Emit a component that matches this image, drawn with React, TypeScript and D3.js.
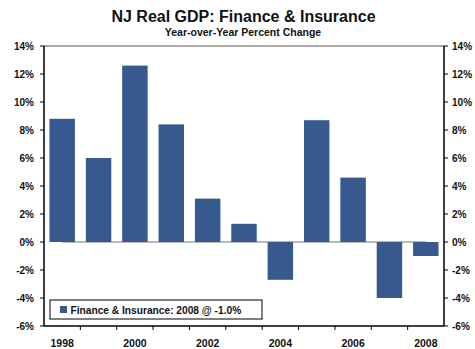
import React from "react";
import * as d3 from "d3";

const years = ["1998","1999","2000","2001","2002","2003","2004","2005","2006","2007","2008"];
const values = [8.8, 6.0, 12.6, 8.4, 3.1, 1.3, -2.7, 8.7, 4.6, -4.0, -1.0];
const yTicks = [14, 12, 10, 8, 6, 4, 2, 0, -2, -4, -6];
const xLabels = ["1998", "2000", "2002", "2004", "2006", "2008"];
const title = "NJ Real GDP: Finance & Insurance";
const subtitle = "Year-over-Year Percent Change";
const legendLabel = "Finance & Insurance: 2008 @ -1.0%";

export default function App() {
  const W = 475, H = 349;
  const left = 44, right = 444, top = 46, bottom = 326;
  const x = d3.scaleBand().domain(years).range([left, right]).paddingInner(0.3).paddingOuter(0.15);
  const xb = d3.scaleBand().domain(years).range([left, right]);
  const y = d3.scaleLinear().domain([-6, 14]).range([bottom, top]);
  const color = "#365a8d";
  const font = "'Liberation Sans', Arial, sans-serif";
  const fx = (yr: string) => (xb(yr) as number) + xb.bandwidth() / 2;
  return (
    <svg width={W} height={H} style={{ position: "absolute", left: 0, top: 0, background: "#fff" }} fontFamily={font}>
      <text x={243.5} y={22} textAnchor="middle" fontSize={16} fontWeight="bold" fill="#111">{title}</text>
      <text x={243} y={35.5} textAnchor="middle" fontSize={10.5} fontWeight="bold" fill="#111">{subtitle}</text>
      {/* top border */}
      <line x1={left} x2={right} y1={y(14)} y2={y(14)} stroke="#555" strokeWidth={1} />
      {/* zero line */}
      <line x1={fx(years[0])} x2={fx(years[years.length - 1])} y1={y(0)} y2={y(0)} stroke="#777" strokeWidth={1} />
      {years.map((yr, i) => {
        const v = values[i];
        const y0 = y(Math.max(0, v));
        const h = Math.abs(y(v) - y(0));
        return <rect key={yr} x={x(yr)} y={y0} width={x.bandwidth()} height={h} fill={color} />;
      })}
      {/* axes */}
      <line x1={left} x2={left} y1={top} y2={bottom} stroke="#000" strokeWidth={1.5} />
      <line x1={right} x2={right} y1={top} y2={bottom} stroke="#000" strokeWidth={1.5} />
      <line x1={left} x2={right} y1={bottom} y2={bottom} stroke="#000" strokeWidth={1.5} />
      {yTicks.map((t) => (
        <g key={t}>
          <line x1={left - 4} x2={left} y1={y(t)} y2={y(t)} stroke="#000" />
          <line x1={right} x2={right + 4} y1={y(t)} y2={y(t)} stroke="#000" />
          <text x={left - 10} y={y(t) + 3.5} textAnchor="end" fontSize={10} fontWeight="bold" fill="#111">{t}%</text>
          <text x={right + 8} y={y(t) + 3.5} textAnchor="start" fontSize={10} fontWeight="bold" fill="#111">{t}%</text>
        </g>
      ))}
      {years.map((yr, i) => (
        i > 0 ? <line key={yr} x1={xb(yr) as number} x2={xb(yr) as number} y1={bottom} y2={bottom + 4} stroke="#000" /> : null
      ))}
      {xLabels.map((yr) => (
        <text key={yr} x={fx(yr)} y={347} textAnchor="middle" fontSize={10.5} fontWeight="bold" fill="#111">{yr}</text>
      ))}
      {/* legend */}
      <rect x={50} y={300} width={212} height={19} fill="#fff" stroke="#000" strokeWidth={1} />
      <rect x={60} y={306} width={7} height={7} fill={color} />
      <text x={70.5} y={313.5} fontSize={10.2} fontWeight="bold" fill="#111">{legendLabel}</text>
    </svg>
  );
}
